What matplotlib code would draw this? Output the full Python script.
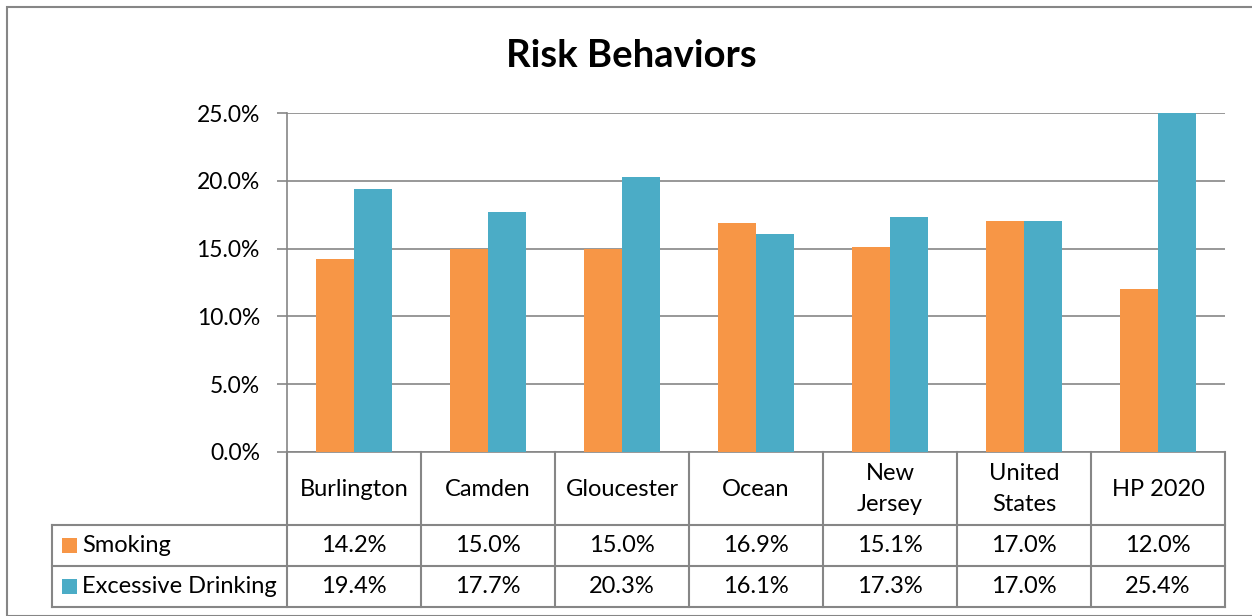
import matplotlib
matplotlib.use("Agg")
import matplotlib.pyplot as plt
from matplotlib.transforms import blended_transform_factory
from matplotlib.patches import Rectangle
from matplotlib.lines import Line2D

categories = ["Burlington", "Camden", "Gloucester", "Ocean", "New\nJersey", "United\nStates", "HP 2020"]
series_names = ["Smoking", "Excessive Drinking"]
smoking = [14.2, 15.0, 15.0, 16.9, 15.1, 17.0, 12.0]
drinking = [19.4, 17.7, 20.3, 16.1, 17.3, 17.0, 25.4]
colors = ["#F79646", "#4BACC6"]
yticks = [0, 5, 10, 15, 20, 25]

plt.rcParams['font.family'] = ['Lato', 'DejaVu Sans']

W, H = 1252, 616
fig = plt.figure(figsize=(W / 100, H / 100), dpi=100)
grid_c = "#868686"

# outer border
fig.patches.append(Rectangle((7 / W, 0), 1.2, 1 - 7 / H, transform=fig.transFigure,
                             fill=False, edgecolor=grid_c, linewidth=1.5))

L, R, T, B = 287, 1225, 113, 452
ax = fig.add_axes([L / W, 1 - B / H, (R - L) / W, (B - T) / H])

n = len(categories)
x = list(range(n))
bw = 0.285
ax.bar([i - bw / 2 for i in x], smoking, width=bw, color=colors[0], zorder=3)
ax.bar([i + bw / 2 for i in x], drinking, width=bw, color=colors[1], zorder=3)

ax.set_xlim(-0.5, n - 0.5)
ax.set_ylim(0, 25)
ax.set_yticks(yticks)
ax.set_yticklabels([f"{v:.1f}%" for v in yticks], fontsize=16.5)
ax.tick_params(axis='y', length=7, color=grid_c, width=1.2, pad=12.5)
ax.set_xticks([])
ax.grid(axis='y', color=grid_c, linewidth=1.2, zorder=0)
for s in ["top", "right"]:
    ax.spines[s].set_visible(False)
ax.spines["left"].set_color(grid_c)
ax.spines["left"].set_linewidth(1.2)
ax.spines["bottom"].set_color(grid_c)
ax.spines["bottom"].set_linewidth(1.2)

fig.text(631 / W, 1 - 56 / H, "Risk Behaviors", ha="center", va="center",
         fontsize=27.5, fontweight="bold")

# data table
tr = blended_transform_factory(ax.transData, ax.transAxes)
ppu = B - T
def ay(py):
    return (B - py) / ppu
y_h = ay(525)
y_1 = ay(566)
y_2 = ay(607)
cw = (R - L) / n
x_left = (52 - L) / cw - 0.5

lkw = dict(color=grid_c, linewidth=1.5, transform=tr, clip_on=False)
for k in range(n + 1):
    ax.add_line(Line2D([k - 0.5, k - 0.5], [0, y_2], **lkw))
for yy in (y_h, y_1, y_2):
    ax.add_line(Line2D([x_left, n - 0.5], [yy, yy], **lkw))
ax.add_line(Line2D([x_left, x_left], [y_h, y_2], **lkw))

fs = 17
for i, c in enumerate(categories):
    ax.text(i, ay(489), c, transform=tr, ha="center", va="center",
            fontsize=fs, linespacing=1.6)
for row, (vals, yy0, yy1) in enumerate([(smoking, y_h, y_1), (drinking, y_1, y_2)]):
    ym = (yy0 + yy1) / 2
    for i, v in enumerate(vals):
        ax.text(i, ym, f"{v:.1f}%", transform=tr, ha="center", va="center", fontsize=fs)
    # legend key
    kx0 = (62 - L) / cw - 0.5
    kw = 15 / cw
    kh = 15 / ppu
    ax.add_patch(Rectangle((kx0, ym - kh / 2), kw, kh, transform=tr, clip_on=False,
                           facecolor=colors[row], edgecolor="none"))
    ax.text(kx0 + kw + 5 / cw, ym, series_names[row], transform=tr,
            ha="left", va="center", fontsize=fs)

fig.savefig("out.png", dpi=100)
